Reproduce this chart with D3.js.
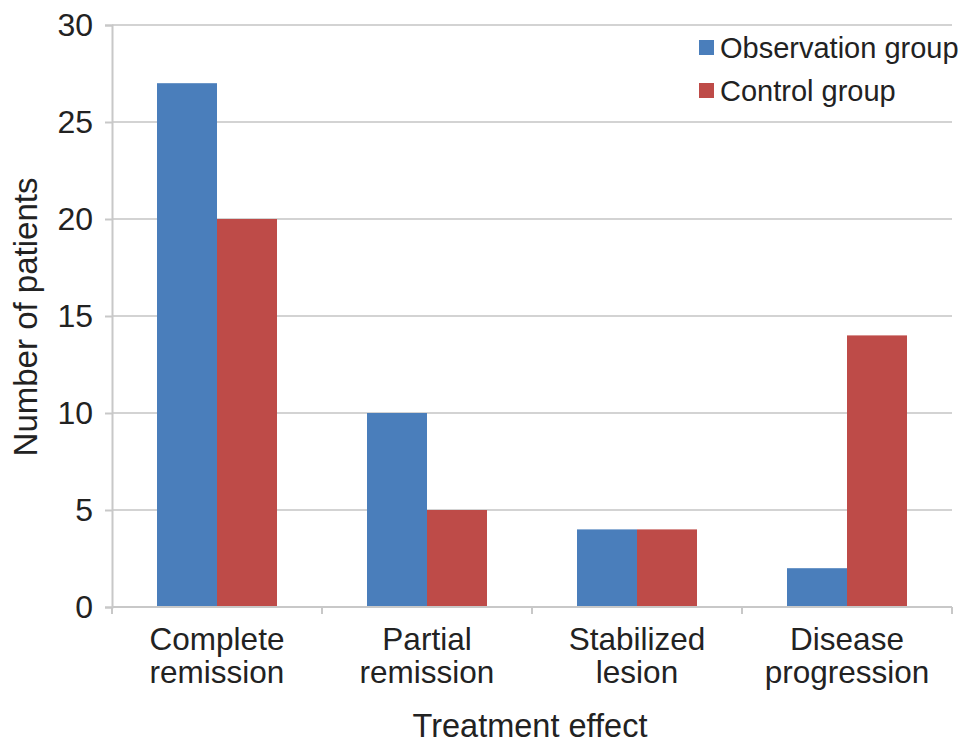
<!DOCTYPE html>
<html>
<head>
<meta charset="utf-8">
<script src="https://cdn.jsdelivr.net/npm/d3@7"></script>
<style>
html,body{margin:0;padding:0;background:#fff;}
svg{display:block;font-family:"Liberation Sans",Arial,Helvetica,sans-serif;}
</style>
</head>
<body>
<svg id="chart" width="969" height="750"></svg>
<script>
const categories = [["Complete","remission"],["Partial","remission"],["Stabilized","lesion"],["Disease","progression"]];
const seriesNames = ["Observation group","Control group"];
const observation = [27,10,4,2];
const control = [20,5,4,14];
const yTicks = [0,5,10,15,20,25,30];
const colors = ["#4A7EBB","#BE4B48"];

const svg = d3.select("#chart");
const pL = 112, pR = 952, pT = 25, pB = 607;

const x = d3.scaleBand().domain(d3.range(categories.length)).range([pL,pR])
  .paddingInner(90/210).paddingOuter(45/210);
const x1 = d3.scaleBand().domain([0,1]).range([0,x.bandwidth()]);
const y = d3.scaleLinear().domain([0,30]).range([pB,pT]);

// gridlines
svg.append("g").selectAll("line").data(yTicks.filter(d=>d>0)).join("line")
  .attr("x1",pL).attr("x2",pR)
  .attr("y1",d=>y(d)).attr("y2",d=>y(d))
  .attr("stroke","#d3d3d3").attr("stroke-width",2);

// y axis
const yAxis = svg.append("g").attr("transform",`translate(${pL},0)`)
  .call(d3.axisLeft(y).tickValues(yTicks).tickSize(7).tickPadding(12));
yAxis.select(".domain").attr("stroke","#c8c8c8").attr("stroke-width",2);
yAxis.selectAll(".tick line").attr("stroke","#c8c8c8").attr("stroke-width",2);
yAxis.selectAll(".tick text").attr("font-size",32).attr("fill","#222")
  .attr("font-family","'Liberation Sans',Arial,sans-serif");

// bars
const series = [observation, control];
series.forEach((vals,si)=>{
  svg.append("g").selectAll("rect").data(vals).join("rect")
    .attr("x",(d,i)=>x(i)+x1(si))
    .attr("width",x1.bandwidth())
    .attr("y",d=>y(d))
    .attr("height",d=>pB-y(d))
    .attr("fill",colors[si]);
});

// x axis
const step = x.step();
const bounds = d3.range(categories.length+1).map(i=>pL+i*step);
const xg = svg.append("g");
xg.append("line").attr("x1",pL).attr("x2",pR).attr("y1",pB).attr("y2",pB)
  .attr("stroke","#c8c8c8").attr("stroke-width",2);
xg.selectAll("line.tk").data(bounds).join("line").attr("class","tk")
  .attr("x1",d=>d).attr("x2",d=>d).attr("y1",pB).attr("y2",pB+7)
  .attr("stroke","#c8c8c8").attr("stroke-width",2);
const lab = xg.selectAll("text.cat").data(categories).join("text").attr("class","cat")
  .attr("text-anchor","middle").attr("font-size",31.5).attr("fill","#222")
  .attr("transform",(d,i)=>`translate(${x(i)+x.bandwidth()/2},0)`);
lab.selectAll("tspan").data(d=>d).join("tspan")
  .attr("x",0).attr("y",(d,j)=>650+j*33).text(d=>d);

// axis titles
svg.append("text").attr("x",530).attr("y",737).attr("text-anchor","middle")
  .attr("font-size",32.5).attr("fill","#222").text("Treatment effect");
svg.append("text").attr("transform",`translate(37,317) rotate(-90)`)
  .attr("text-anchor","middle").attr("font-size",33).attr("fill","#222").text("Number of patients");

// legend
const lg = svg.append("g").attr("transform","translate(699,40)");
seriesNames.forEach((n,i)=>{
  lg.append("rect").attr("x",0).attr("y",i*43).attr("width",15).attr("height",15).attr("fill",colors[i]);
  lg.append("text").attr("x",21).attr("y",i*43+18).attr("font-size",29).attr("fill","#222").text(n);
});
</script>
</body>
</html>
